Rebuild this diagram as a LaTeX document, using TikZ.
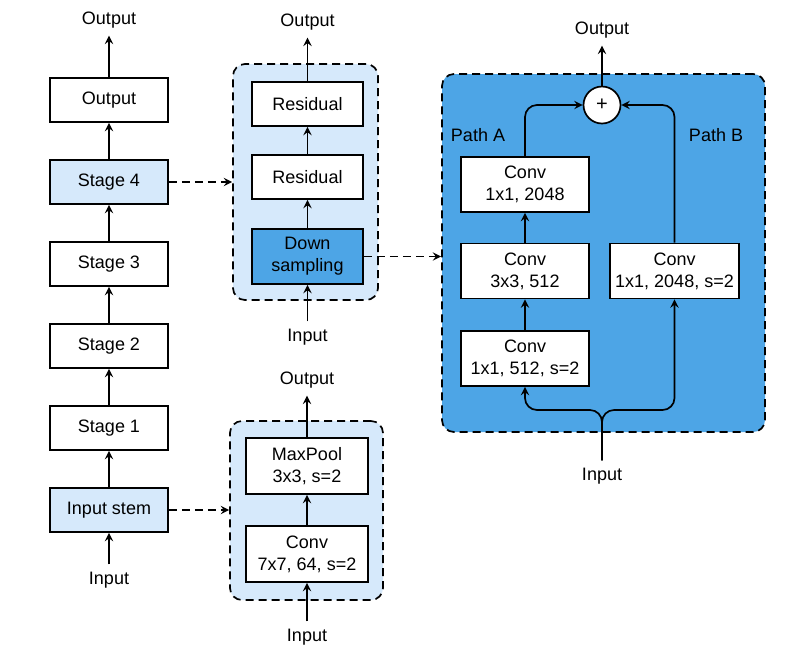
\documentclass[tikz,border=0pt]{standalone}
\usepackage{fontspec}
\setmainfont{Liberation Sans}
\definecolor{lightblue}{RGB}{214,233,251}
\definecolor{midblue}{RGB}{77,165,230}
\begin{document}
\begin{tikzpicture}[x=0.5pt,y=-0.5pt,->,>=stealth,line width=0.85pt,node distance=41pt,
    main node/.style={rectangle,draw,fill=white,font=\fontsize{9}{11}\selectfont,align=center,inner sep=0pt,minimum width=59pt,minimum height=22pt},
    group box/.style={rectangle,draw,dash pattern=on 4pt off 2.5pt,rounded corners=6pt,inner sep=0pt},
    label node/.style={font=\fontsize{9}{11}\selectfont},
    link/.style={dash pattern=on 4pt off 2.5pt}]
    \useasboundingbox (0,0) rectangle (790,655);
    % main stages
    \node[main node] (1) at (109,100) {Output};
    \node[main node,fill=lightblue] (2) [below of=1] {Stage 4};
    \node[main node] (3) [below of=2] {Stage 3};
    \node[main node] (4) [below of=3] {Stage 2};
    \node[main node] (5) [below of=4] {Stage 1};
    \node[main node,fill=lightblue] (6) [below of=5] {Input stem};
    \node[label node] (o1) at (109,20) {Output};
    \node[label node] (i1) at (109,580) {Input};
    \draw (i1) -- (6);
    \foreach \i/\j in {6/5,5/4,4/3,3/2,2/1,1/o1}
      \draw (\i) -- (\j);
    % stage
    \node[group box,fill=lightblue,minimum width=72.5pt,minimum height=118pt] (g1) at (305.5,182) {};
    \node[main node,minimum width=55.5pt] (r1) at (307.5,104) {Residual};
    \node[main node,minimum width=55.5pt] (r2) at (307.5,177) {Residual};
    \node[main node,minimum width=55.5pt,minimum height=27.5pt,fill=midblue] (ds) at (307.5,256.5) {Down\\sampling};
    \node[label node] (o2) at (307.5,22) {Output};
    \node[label node] (i2) at (307.5,337) {Input};
    \foreach \i/\j in {i2/ds,ds/r2,r2/r1,r1/o2}
      \draw (\i) -- (\j);
    \draw[link] (2.east) -- (2.east -| g1.west);
    % stem
    \node[group box,fill=lightblue,minimum width=76.5pt,minimum height=89.5pt] (g2) at (306.5,510.5) {};
    \node[main node,minimum width=61pt,minimum height=28pt] (m1) at (307,466) {MaxPool\\3x3, s=2};
    \node[main node,minimum width=61pt,minimum height=28pt] (c1) at (307,554) {Conv\\7x7, 64, s=2};
    \node[label node] (o3) at (307,380) {Output};
    \node[label node] (i3) at (307,637) {Input};
    \foreach \i/\j in {i3/c1,c1/m1,m1/o3}
      \draw (\i) -- (\j);
    \draw[link] (6.east) -- (6.east -| g2.west);
    % down sampling block
    \node[group box,fill=midblue,minimum width=161.5pt,minimum height=179pt] (g3) at (603.5,253) {};
    \node[circle,draw,fill=white,minimum size=18.5pt,inner sep=0pt,font=\fontsize{10}{12}\selectfont] (add) at (602,105) {+};
    \node[main node,minimum width=64pt,minimum height=27.5pt] (a3) at (525,184.5) {Conv\\1x1, 2048};
    \node[main node,minimum width=64pt,minimum height=27.5pt] (a2) at (525,271) {Conv\\3x3, 512};
    \node[main node,minimum width=64pt,minimum height=27.5pt] (a1) at (525,358.5) {Conv\\1x1, 512, s=2};
    \node[main node,minimum width=64.5pt,minimum height=27.5pt] (b1) at (674.5,271) {Conv\\1x1, 2048, s=2};
    \node[label node] (pa) at (478,135) {Path A};
    \node[label node] (pb) at (716,135) {Path B};
    \node[label node] (o4) at (602,30) {Output};
    \node[label node] (i4) at (602,476) {Input};
    \coordinate (split) at (602,410);
    \draw[rounded corners=6pt] (i4) -- (split) -| (a1);
    \draw[rounded corners=6pt] (i4) -- (split) -| (b1);
    \draw (a1) -- (a2);
    \draw (a2) -- (a3);
    \draw[rounded corners=6pt] (a3) |- (add);
    \draw[rounded corners=6pt] (b1) |- (add);
    \draw (add) -- (o4);
    \draw[link] (ds.east) -- (ds.east -| g3.west);
\end{tikzpicture}
\end{document}
